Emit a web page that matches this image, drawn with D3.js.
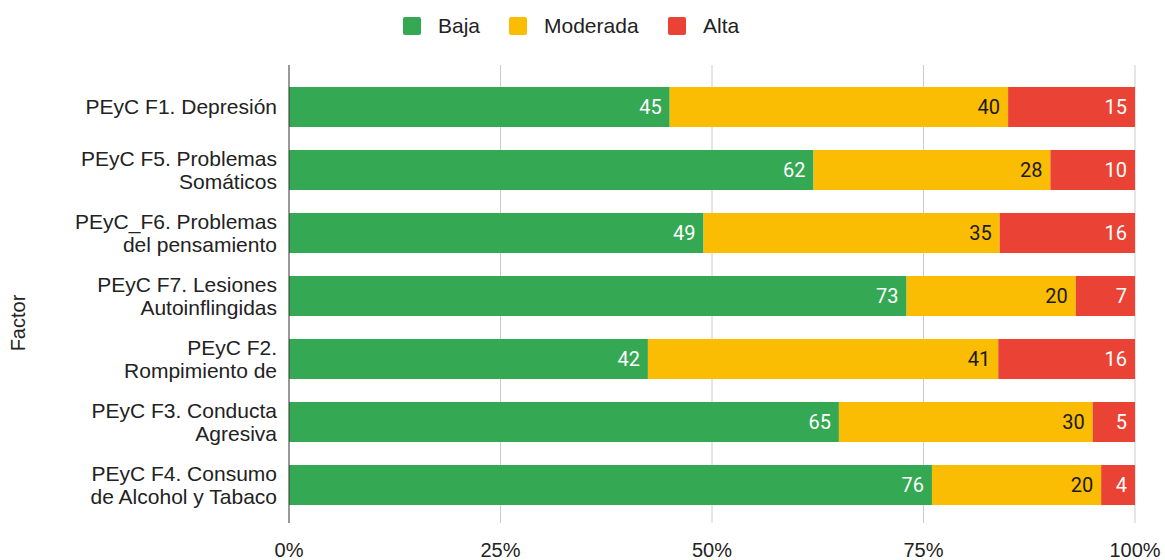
<!DOCTYPE html>
<html>
<head>
<meta charset="utf-8">
<script src="https://cdn.jsdelivr.net/npm/d3@7"></script>
<style>
  body { margin: 0; background: #fff; }
  text { font-family: "Liberation Sans", Arial, sans-serif; }
  .val { font-family: Roboto, "Liberation Sans", sans-serif; }
</style>
</head>
<body>
<div id="chart-area"></div>
<script>
// Data
var factors = [
  ["PEyC F1. Depresión"],
  ["PEyC F5. Problemas", "Somáticos"],
  ["PEyC_F6. Problemas", "del pensamiento"],
  ["PEyC F7. Lesiones", "Autoinflingidas"],
  ["PEyC F2.", "Rompimiento de"],
  ["PEyC F3. Conducta", "Agresiva"],
  ["PEyC F4. Consumo", "de Alcohol y Tabaco"]
];
var seriesNames = ["Baja", "Moderada", "Alta"];
var baja     = [45, 62, 49, 73, 42, 65, 76];
var moderada = [40, 28, 35, 20, 41, 30, 20];
var alta     = [15, 10, 16, 7, 16, 5, 4];
var tickValues = [0, 0.25, 0.5, 0.75, 1];

var colors = ["#34a853", "#fbbc04", "#ea4335"];
var labelColors = ["#ffffff", "#1a1a1a", "#ffffff"];

var W = 1165, H = 560;
var svg = d3.select("#chart-area").append("svg")
    .attr("width", W)
    .attr("height", H);

// build rows, normalized to 100%
var rows = factors.map(function(f, i) {
  return { key: i, Baja: baja[i], Moderada: moderada[i], Alta: alta[i] };
});
rows.forEach(function(r) {
  r.total = r.Baja + r.Moderada + r.Alta;
});

var stack = d3.stack().keys(seriesNames)
  .value(function(d, k) { return d[k] / d.total; });
var stacked = stack(rows);

// Scales
var x = d3.scaleLinear().domain([0, 1]).range([289, 1135]);
var y = d3.scaleBand()
  .domain(d3.range(factors.length))
  .range([75.5, 516.5])
  .paddingInner(0.365)
  .paddingOuter(0.1825);

// Gridlines
svg.append("g")
  .selectAll("line")
  .data(tickValues.slice(1))
  .enter().append("line")
    .attr("x1", function(d) { return x(d); })
    .attr("x2", function(d) { return x(d); })
    .attr("y1", 65)
    .attr("y2", 523)
    .attr("stroke", "#cccccc")
    .attr("stroke-width", 1);

// Bars
var layers = svg.append("g")
  .selectAll("g")
  .data(stacked)
  .enter().append("g")
    .attr("fill", function(d, i) { return colors[i]; });

layers.selectAll("rect")
  .data(function(d) { return d; })
  .enter().append("rect")
    .attr("x", function(d) { return x(d[0]); })
    .attr("y", function(d, i) { return y(i); })
    .attr("width", function(d) { return x(d[1]) - x(d[0]); })
    .attr("height", y.bandwidth());

// Value labels
stacked.forEach(function(layer, s) {
  svg.append("g")
    .selectAll("text")
    .data(layer)
    .enter().append("text")
      .attr("class", "val")
      .attr("x", function(d) { return x(d[1]) - 8; })
      .attr("y", function(d, i) { return y(i) + y.bandwidth() / 2; })
      .attr("dy", "0.36em")
      .attr("text-anchor", "end")
      .attr("font-size", "20px")
      .attr("fill", labelColors[s])
      .text(function(d) { return d.data[layer.key]; });
});

// Zero axis line
svg.append("line")
  .attr("x1", x(0)).attr("x2", x(0))
  .attr("y1", 65).attr("y2", 523)
  .attr("stroke", "#333333")
  .attr("stroke-width", 1);

// X tick labels
svg.append("g")
  .selectAll("text")
  .data(tickValues)
  .enter().append("text")
    .attr("x", function(d) { return x(d); })
    .attr("y", 557)
    .attr("text-anchor", "middle")
    .attr("font-size", "20px")
    .attr("fill", "#222")
    .text(d3.format(".0%"));

// Category labels
var cats = svg.append("g")
  .selectAll("text")
  .data(factors)
  .enter().append("text")
    .attr("text-anchor", "end")
    .attr("font-size", "21px")
    .attr("fill", "#222")
    .attr("y", function(d, i) { return y(i) + y.bandwidth() / 2; });

cats.selectAll("tspan")
  .data(function(d) { return d; })
  .enter().append("tspan")
    .attr("x", 277)
    .attr("dy", function(t, j, nodes) {
      var n = nodes.length;
      if (j === 0) return (0.35 - (n - 1) * 0.54) + "em";
      return "1.08em";
    })
    .text(function(t) { return t; });

// Y axis title
svg.append("text")
  .attr("transform", "translate(25,323) rotate(-90)")
  .attr("text-anchor", "middle")
  .attr("font-size", "20px")
  .attr("fill", "#222")
  .text("Factor");

// Legend
var legendX = [403, 509, 668];
var legend = svg.append("g")
  .selectAll("g")
  .data(seriesNames)
  .enter().append("g")
    .attr("transform", function(d, i) { return "translate(" + legendX[i] + ",17)"; });

legend.append("rect")
  .attr("width", 18)
  .attr("height", 18)
  .attr("rx", 2)
  .attr("fill", function(d, i) { return colors[i]; });

legend.append("text")
  .attr("x", 35)
  .attr("y", 9)
  .attr("dy", "0.35em")
  .attr("font-size", "21px")
  .attr("fill", "#222")
  .text(function(d) { return d; });
</script>
</body>
</html>
